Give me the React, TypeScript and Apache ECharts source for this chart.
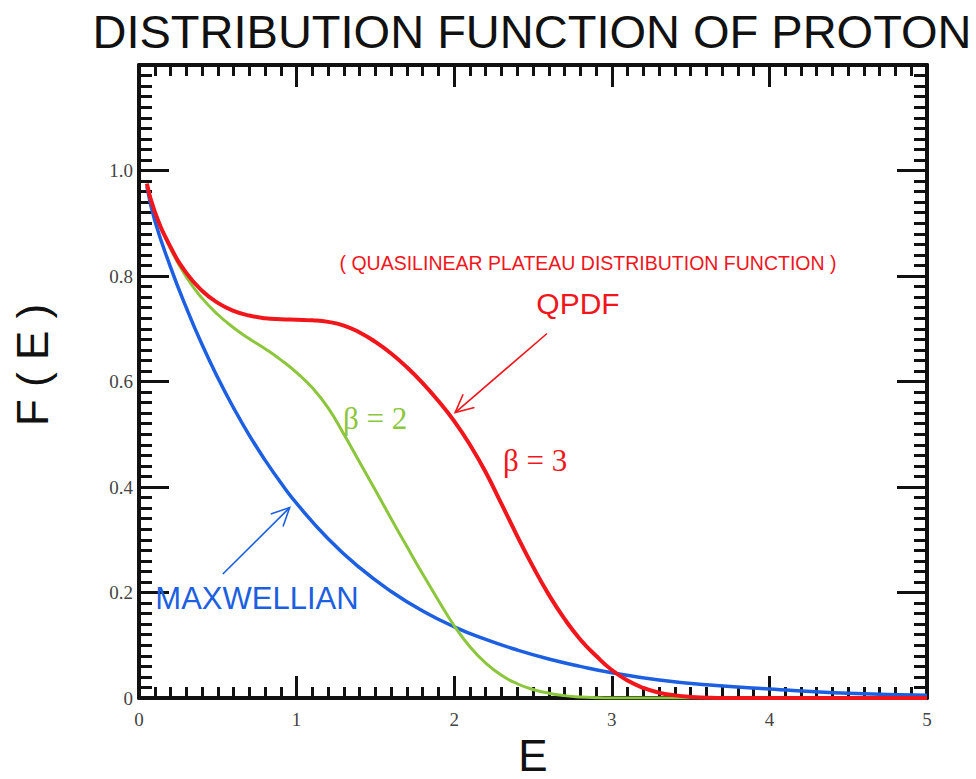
import React, { useEffect, useRef } from 'react';
import * as echarts from 'echarts';

// Maxwellian distribution
const maxwellE = [0.05, 0.1, 0.2, 0.3, 0.4, 0.5, 0.6, 0.7, 0.8, 0.9, 1.0, 1.2, 1.4, 1.6, 1.8, 2.0, 2.2, 2.4, 2.6, 2.8, 3.0, 3.3, 3.6, 4.0, 4.5, 5.0];
const maxwellF = [0.97, 0.905, 0.817, 0.74, 0.67, 0.607, 0.55, 0.498, 0.451, 0.408, 0.369, 0.302, 0.247, 0.202, 0.165, 0.135, 0.111, 0.091, 0.074, 0.06, 0.048, 0.034, 0.025, 0.017, 0.009, 0.005];

// Quasilinear plateau distribution, beta = 2
const beta2E = [0.05, 0.1, 0.2, 0.3, 0.4, 0.5, 0.6, 0.7, 0.8, 0.9, 1.0, 1.1, 1.2, 1.3, 1.4, 1.5, 1.6, 1.7, 1.8, 1.9, 2.0, 2.1, 2.2, 2.3, 2.4, 2.5, 2.6, 2.7, 2.8, 2.9, 3.0, 3.5, 4.0, 4.5, 5.0];
const beta2F = [0.975, 0.922, 0.852, 0.798, 0.758, 0.727, 0.702, 0.681, 0.662, 0.641, 0.617, 0.588, 0.55, 0.5, 0.447, 0.394, 0.34, 0.287, 0.235, 0.185, 0.137, 0.097, 0.066, 0.043, 0.027, 0.016, 0.009, 0.0045, 0.0018, 0.0005, 0, 0, 0, 0, 0];

// Quasilinear plateau distribution, beta = 3 (QPDF)
const beta3E = [0.05, 0.1, 0.2, 0.3, 0.4, 0.5, 0.6, 0.7, 0.8, 0.9, 1.0, 1.1, 1.2, 1.3, 1.4, 1.5, 1.6, 1.7, 1.8, 1.9, 2.0, 2.1, 2.2, 2.3, 2.4, 2.5, 2.6, 2.7, 2.8, 2.9, 3.0, 3.1, 3.2, 3.3, 3.4, 3.5, 3.6, 3.7, 4.0, 4.5, 5.0];
const beta3F = [0.975, 0.922, 0.855, 0.806, 0.772, 0.749, 0.734, 0.725, 0.72, 0.718, 0.717, 0.716, 0.713, 0.706, 0.693, 0.675, 0.653, 0.627, 0.597, 0.563, 0.525, 0.48, 0.428, 0.368, 0.307, 0.249, 0.196, 0.15, 0.111, 0.08, 0.053, 0.033, 0.019, 0.01, 0.005, 0.002, 0.0007, 0, 0, 0, 0];

const xTicks = [0, 1, 2, 3, 4, 5];
const yTickLabels = ['0', '0.2', '0.4', '0.6', '0.8', '1.0', ''];

const RED = '#f0161c';
const GREEN = '#8cc63c';
const BLUE = '#1c5fe0';
const SANS = '"Liberation Sans", Arial, Helvetica, sans-serif';
const SERIF = '"Liberation Serif", "Times New Roman", serif';

const pairs = (xs: number[], ys: number[]) => xs.map((x, i) => [x, ys[i]]);

export default function App() {
  const ref = useRef<HTMLDivElement>(null);

  useEffect(() => {
    if (!ref.current) return;
    const chart = echarts.init(ref.current, undefined, { renderer: 'svg' });

    const tickLine = { color: '#111', width: 3 };
    const baseX = {
      type: 'value',
      min: 0,
      max: 5,
      interval: 1,
      axisLine: { show: true, onZero: false, lineStyle: { color: '#111', width: 4 } },
      axisTick: { show: true, inside: true, length: 22, lineStyle: tickLine },
      minorTick: { show: true, splitNumber: 10, length: 11, lineStyle: tickLine },
      splitLine: { show: false },
    };
    const baseY = {
      type: 'value',
      min: 0,
      max: 1.2,
      interval: 0.2,
      axisLine: { show: true, onZero: false, lineStyle: { color: '#111', width: 4 } },
      axisTick: { show: true, inside: true, length: 30, lineStyle: tickLine },
      minorTick: { show: true, splitNumber: 10, length: 13, lineStyle: tickLine },
      splitLine: { show: false },
    };

    const curve = (name: string, data: number[][], color: string, width: number, z: number) => ({
      name,
      type: 'line',
      data,
      smooth: 0.5,
      showSymbol: false,
      lineStyle: { color, width },
      z,
    });

    const option: any = {
      animation: false,
      backgroundColor: '#ffffff',
      grid: { left: 139, right: 49, top: 65, bottom: 81, containLabel: false },
      xAxis: [
        {
          ...baseX,
          position: 'bottom',
          axisLabel: {
            show: true,
            margin: 12,
            color: '#444',
            fontFamily: SERIF,
            fontSize: 19,
            formatter: (v: number) => (xTicks.includes(v) ? String(v) : ''),
          },
        },
        { ...baseX, position: 'top', axisLabel: { show: false } },
      ],
      yAxis: [
        {
          ...baseY,
          position: 'left',
          axisLabel: {
            show: true,
            margin: 6,
            color: '#444',
            fontFamily: SERIF,
            fontSize: 19,
            formatter: (v: number) => yTickLabels[Math.round(v / 0.2)] ?? '',
          },
        },
        { ...baseY, position: 'right', axisLabel: { show: false } },
      ],
      series: [
        curve('MAXWELLIAN', pairs(maxwellE, maxwellF), BLUE, 3.5, 3),
        curve('β = 2', pairs(beta2E, beta2F), GREEN, 3, 4),
        curve('β = 3', pairs(beta3E, beta3F), RED, 4, 5),
      ],
    };
    chart.setOption(option);

    // annotation arrows, anchored in data coordinates
    const arrow = (tail: number[], head: number[], color: string) => {
      const t = chart.convertToPixel({ gridIndex: 0 }, tail) as number[];
      const h = chart.convertToPixel({ gridIndex: 0 }, head) as number[];
      const ang = Math.atan2(t[1] - h[1], t[0] - h[0]);
      const len = 20;
      const spread = 0.45;
      const p1 = [h[0] + len * Math.cos(ang + spread), h[1] + len * Math.sin(ang + spread)];
      const p2 = [h[0] + len * Math.cos(ang - spread), h[1] + len * Math.sin(ang - spread)];
      return [
        { type: 'line', shape: { x1: t[0], y1: t[1], x2: h[0], y2: h[1] }, style: { stroke: color, lineWidth: 1.6 }, z: 10 },
        { type: 'polyline', shape: { points: [p1, h, p2] }, style: { stroke: color, lineWidth: 1.6, fill: 'none' }, z: 10 },
      ];
    };

    const text = (t: string, x: number, y: number, font: string, color: string, extra: any = {}) => ({
      type: 'text',
      x,
      y,
      z: 10,
      ...extra,
      style: { text: t, fill: color, font, textAlign: 'center', textVerticalAlign: 'middle' },
    });

    chart.setOption({
      graphic: [
        text('DISTRIBUTION FUNCTION OF PROTON', 532, 31, `47px ${SANS}`, '#111'),
        text('F ( E )', 32, 365, `44px ${SANS}`, '#111', { rotation: Math.PI / 2 }),
        text('E', 533, 755, `44px ${SANS}`, '#111'),
        text('( QUASILINEAR PLATEAU DISTRIBUTION FUNCTION )', 588, 263, `19.5px ${SANS}`, RED),
        text('QPDF', 578, 303, `30px ${SANS}`, RED),
        text('β = 3', 535, 460, `31px ${SERIF}`, RED),
        text('β = 2', 375, 418, `31px ${SERIF}`, GREEN),
        text('MAXWELLIAN', 257, 598, `31px ${SANS}`, BLUE),
        ...arrow([2.589, 0.691], [2.006, 0.541], RED),
        ...arrow([0.532, 0.235], [0.956, 0.361], BLUE),
      ],
    });

    return () => chart.dispose();
  }, []);

  return <div ref={ref} style={{ position: 'absolute', left: 0, top: 0, width: 976, height: 779 }} />;
}
